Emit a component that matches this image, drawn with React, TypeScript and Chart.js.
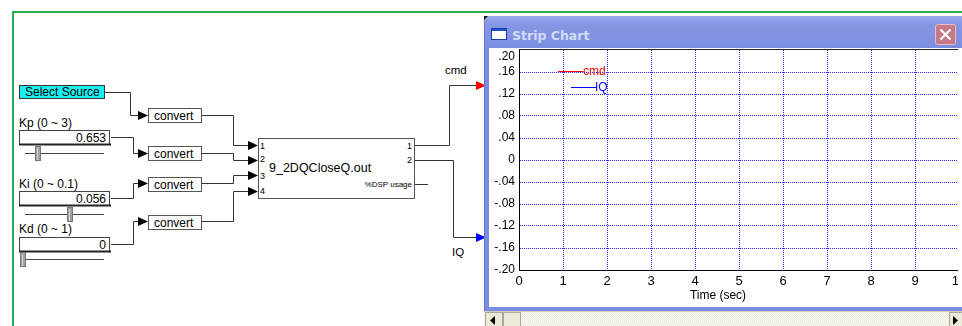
import React, { useEffect, useRef } from "react";
import { Chart, registerables } from "chart.js";
Chart.register(...registerables);

// ---- data ----
const seriesNames = ["cmd", "IQ"];
const seriesColors = ["#ff0000", "#0000ff"];
const cmdValues: { x: number; y: number }[] = [];
const iqValues: { x: number; y: number }[] = [];
const xTickValues = [0, 1, 2, 3, 4, 5, 6, 7, 8, 9, 10];
const yTickValues = [-0.2, -0.16, -0.12, -0.08, -0.04, 0, 0.04, 0.08, 0.12, 0.16, 0.2];
const yTickLabels = ["-.20", "-.16", "-.12", "-.08", "-.04", "0", ".04", ".08", ".12", ".16", ".20"];
const xTitle = "Time (sec)";
const windowTitle = "Strip Chart";

const FONT = "'Liberation Sans', Arial, sans-serif";
const GRID = "rgba(30,30,255,0.95)";

const overlayPlugin = {
  id: "overlay",
  afterDraw(chart: any) {
    const { ctx, chartArea, scales } = chart;
    const { left, top, bottom } = chartArea;
    ctx.save();
    // top frame line
    ctx.strokeStyle = "#222";
    ctx.lineWidth = 1;
    ctx.beginPath();
    ctx.moveTo(left, top - 0.5);
    ctx.lineTo(chart.width, top - 0.5);
    ctx.stroke();
    // y tick labels
    ctx.fillStyle = "#000";
    ctx.font = `12px ${FONT}`;
    ctx.textAlign = "right";
    ctx.textBaseline = "middle";
    yTickValues.forEach((v, i) => {
      let y = scales.y.getPixelForValue(v);
      if (y < top + 7) y = top + 7;
      ctx.fillText(yTickLabels[i], left - 4, y);
    });
    // x title
    ctx.textAlign = "center";
    ctx.fillText(xTitle, left + 199, bottom + 26);
    // legend
    const items = [
      { x0: left + 39, x1: left + 64, y: top + 21, tx: left + 64 },
      { x0: left + 52, x1: left + 77, y: top + 37, tx: left + 76 },
    ];
    items.forEach((it, i) => {
      ctx.strokeStyle = seriesColors[i];
      ctx.beginPath();
      ctx.moveTo(it.x0, Math.round(it.y) + 0.5);
      ctx.lineTo(it.x1, Math.round(it.y) + 0.5);
      ctx.stroke();
      ctx.fillStyle = seriesColors[i];
      ctx.textAlign = "left";
      ctx.fillText(seriesNames[i], it.tx, it.y + 1);
    });
    ctx.restore();
  },
};

function StripChart() {
  const ref = useRef<HTMLCanvasElement>(null);
  useEffect(() => {
    const canvas = ref.current!;
    const chart = new Chart(canvas, {
      type: "line",
      data: {
        datasets: [
          { label: seriesNames[0], data: cmdValues, borderColor: seriesColors[0], borderWidth: 1, pointRadius: 0 },
          { label: seriesNames[1], data: iqValues, borderColor: seriesColors[1], borderWidth: 1, pointRadius: 0 },
        ],
      },
      options: {
        animation: false,
        responsive: false,
        maintainAspectRatio: false,
        layout: { padding: { top: 2, right: 30, left: 0, bottom: 0 } },
        plugins: { legend: { display: false }, tooltip: { enabled: false } },
        scales: {
          x: {
            type: "linear",
            min: 0,
            max: 10,
            afterBuildTicks: (s: any) => {
              s.ticks = xTickValues.map((v) => ({ value: v }));
            },
            afterFit: (s: any) => {
              s.height = 37;
            },
            grid: {
              color: (c: any) => (c.tick && (c.tick.value === 0 || c.tick.value === 10) ? "rgba(0,0,0,0)" : GRID),
              lineWidth: 1,
              drawTicks: false,
            },
            border: { display: true, color: "#000", width: 1, dash: [1, 1] },
            ticks: {
              color: "#000",
              font: { family: FONT, size: 13 },
              padding: 4,
              maxRotation: 0,
              autoSkip: false,
              callback: (v: any) => String(v),
            },
          },
          y: {
            type: "linear",
            min: -0.2,
            max: 0.2,
            afterBuildTicks: (s: any) => {
              s.ticks = yTickValues.map((v) => ({ value: v }));
            },
            afterFit: (s: any) => {
              s.width = 30;
            },
            grid: {
              color: (c: any) => (c.tick && Math.abs(c.tick.value) > 0.19 ? "rgba(0,0,0,0)" : GRID),
              lineWidth: 1,
              drawTicks: false,
            },
            border: { display: true, color: "#000", width: 1, dash: [1, 1] },
            ticks: { display: false },
          },
        },
      },
      plugins: [overlayPlugin],
    } as any);
    return () => chart.destroy();
  }, []);
  return <canvas ref={ref} width={500} height={259} style={{ width: 500, height: 259, display: "block" }} />;
}

const W = "#333";

function Wire({ pts }: { pts: number[][] }) {
  return <polyline points={pts.map((p) => p.join(",")).join(" ")} fill="none" stroke={W} strokeWidth={1} />;
}
function Arrow({ x, y, color = "#000" }: { x: number; y: number; color?: string }) {
  return <polygon points={`${x - 10},${y - 4.5} ${x},${y} ${x - 10},${y + 4.5}`} fill={color} />;
}
function Txt(p: any) {
  return <text fontFamily={FONT} fontSize={12} fill="#000" {...p} />;
}
function InputBox({ y, value }: { y: number; value: string }) {
  return (
    <g>
      <rect x={19.5} y={y + 0.5} width={90} height={14} fill="#fff" stroke="#444" />
      <line x1={19} y1={y + 14.5} x2={111} y2={y + 14.5} stroke="#222" strokeWidth={2} />
      <Txt x={106} y={y + 12} textAnchor="end">{value}</Txt>
    </g>
  );
}
function Slider({ y, x0, thumb }: { y: number; x0: number; thumb: number }) {
  return (
    <g>
      <line x1={x0} y1={y + 0.5} x2={104} y2={y + 0.5} stroke="#444" />
      <rect x={thumb + 0.5} y={y - 6.5} width={5} height={14} fill="#a0a0a0" stroke="#777" />
      <line x1={thumb + 2.5} y1={y - 5} x2={thumb + 2.5} y2={y + 7} stroke="#d8d8d8" />
    </g>
  );
}
function Convert({ y }: { y: number }) {
  return (
    <g>
      <rect x={148.5} y={y + 0.5} width={53} height={14} fill="#fff" stroke="#555" />
      <Txt x={154} y={y + 11.5}>convert</Txt>
    </g>
  );
}

function Diagram() {
  return (
    <svg width={962} height={326} style={{ position: "absolute", left: 0, top: 0 }}>
      <rect x={0} y={0} width={962} height={326} fill="#fff" />
      {/* green frame */}
      <line x1={12} y1={12} x2={962} y2={12} stroke="#22b14c" strokeWidth={2} />
      <line x1={13} y1={11} x2={13} y2={326} stroke="#22b14c" strokeWidth={2} />

      {/* Select Source */}
      <rect x={19.5} y={85.5} width={85} height={13} fill="#19eef0" stroke="#333" />
      <Txt x={25} y={96}>Select Source</Txt>

      <Txt x={19} y={127}>Kp (0 ~ 3)</Txt>
      <InputBox y={130} value="0.653" />
      <Slider y={153} x0={25} thumb={35} />

      <Txt x={19} y={188}>Ki (0 ~ 0.1)</Txt>
      <InputBox y={191} value="0.056" />
      <Slider y={214} x0={25} thumb={67} />

      <Txt x={19} y={233}>Kd (0 ~ 1)</Txt>
      <InputBox y={237} value="0" />
      <Slider y={259} x0={20} thumb={20} />

      {/* wires to converts */}
      <Wire pts={[[105, 92.5], [130.5, 92.5], [130.5, 115.5], [139, 115.5]]} />
      <Wire pts={[[111, 137.5], [133.5, 137.5], [133.5, 153.5], [139, 153.5]]} />
      <Wire pts={[[111, 198.5], [133.5, 198.5], [133.5, 183.5], [139, 183.5]]} />
      <Wire pts={[[111, 244.5], [133.5, 244.5], [133.5, 221.5], [139, 221.5]]} />
      <Arrow x={148} y={115.5} />
      <Arrow x={148} y={153.5} />
      <Arrow x={148} y={183.5} />
      <Arrow x={148} y={221.5} />
      <Convert y={108} />
      <Convert y={146} />
      <Convert y={177} />
      <Convert y={215} />

      {/* converts to block */}
      <Wire pts={[[202, 115.5], [233.5, 115.5], [233.5, 145.5], [249, 145.5]]} />
      <Wire pts={[[202, 153.5], [233.5, 153.5], [233.5, 160.5], [249, 160.5]]} />
      <Wire pts={[[202, 183.5], [233.5, 183.5], [233.5, 175.5], [249, 175.5]]} />
      <Wire pts={[[202, 221.5], [233.5, 221.5], [233.5, 191.5], [249, 191.5]]} />
      <Arrow x={258} y={145.5} />
      <Arrow x={258} y={160.5} />
      <Arrow x={258} y={175.5} />
      <Arrow x={258} y={191.5} />

      {/* main block */}
      <rect x={258.5} y={138.5} width={156} height={60} fill="#fff" stroke="#555" />
      <Txt x={260} y={148.5} fontSize={9}>1</Txt>
      <Txt x={260} y={162} fontSize={9}>2</Txt>
      <Txt x={260} y={178.5} fontSize={9}>3</Txt>
      <Txt x={260} y={194} fontSize={9}>4</Txt>
      <Txt x={269} y={172} fontSize={12.5}>9_2DQCloseQ.out</Txt>
      <Txt x={412} y={148.5} fontSize={9} textAnchor="end">1</Txt>
      <Txt x={412} y={163} fontSize={9} textAnchor="end">2</Txt>
      <Txt x={412} y={187} fontSize={8} textAnchor="end">%DSP usage</Txt>
      <Wire pts={[[415, 184.5], [428, 184.5]]} />

      {/* outputs */}
      <Wire pts={[[415, 145.5], [449.5, 145.5], [449.5, 85.5], [476, 85.5]]} />
      <Wire pts={[[415, 160.5], [453.5, 160.5], [453.5, 237.5], [476, 237.5]]} />
      <Arrow x={486} y={85.5} color="#ff0000" />
      <Arrow x={486} y={237.5} color="#0000ff" />
      <Txt x={445} y={74} fontSize={11.5}>cmd</Txt>
      <Txt x={452} y={256} fontSize={11.5}>IQ</Txt>

      {/* window */}
      <defs>
        <linearGradient id="tb" x1="0" y1="0" x2="0" y2="1">
          <stop offset="0" stopColor="#9aaaf0" />
          <stop offset="0.25" stopColor="#8697e4" />
          <stop offset="1" stopColor="#7b8de0" />
        </linearGradient>
        <pattern id="chk" width="2" height="2" patternUnits="userSpaceOnUse">
          <rect width="2" height="2" fill="#fbfaf6" />
          <rect width="1" height="1" fill="#ece9d8" />
          <rect x="1" y="1" width="1" height="1" fill="#ece9d8" />
        </pattern>
      </defs>
      <rect x={484} y={16} width={490} height={296} fill="#7b8de0" />
      <rect x={484} y={16} width={490} height={32} fill="url(#tb)" />
      <line x1={484.5} y1={16} x2={484.5} y2={312} stroke="#6676cc" />
      <polygon points="484,16 488,16 484,20" fill="#111" />
      <rect x={489} y={48} width={480} height={259} fill="#fff" />
      {/* title icon */}
      <rect x={491.5} y={28.5} width={15} height={11} fill="#fff" stroke="#1a3ea8" />
      <rect x={492} y={29} width={14} height={2} fill="#2450c8" />
      <text x={512} y={40} fontFamily="'DejaVu Sans', sans-serif" fontWeight="bold" fontSize={12.5} fill="#d4dbf8">
        {windowTitle}
      </text>
      {/* close button */}
      <rect x={935.5} y={24.5} width={20} height={20} rx={2} fill="#c67a88" stroke="#e6c0c8" />
      <path d="M940.5,29.5 L950.5,39.5 M950.5,29.5 L940.5,39.5" stroke="#fff" strokeWidth={2.2} />

      {/* scrollbar */}
      <rect x={484} y={312} width={478} height={14} fill="url(#chk)" />
      <line x1={484} y1={311.5} x2={962} y2={311.5} stroke="#cfccbd" />
      <rect x={485.5} y={312.5} width={17} height={16} fill="#ece9d8" stroke="#aca899" />
      <polygon points="490,320.5 495,316 495,325" fill="#000" />
      <rect x={503.5} y={312.5} width={17} height={16} fill="#ece9d8" stroke="#aca899" />
      <rect x={949.5} y={312.5} width={17} height={16} fill="#ece9d8" stroke="#aca899" />
      <polygon points="958,320.5 953,316 953,325" fill="#000" />
    </svg>
  );
}

export default function App() {
  return (
    <div style={{ position: "fixed", left: 0, top: 0, width: 962, height: 326, overflow: "hidden", background: "#fff" }}>
      <Diagram />
      <div style={{ position: "absolute", left: 489, top: 48, width: 469, height: 259, overflow: "hidden" }}>
        <StripChart />
      </div>
    </div>
  );
}
